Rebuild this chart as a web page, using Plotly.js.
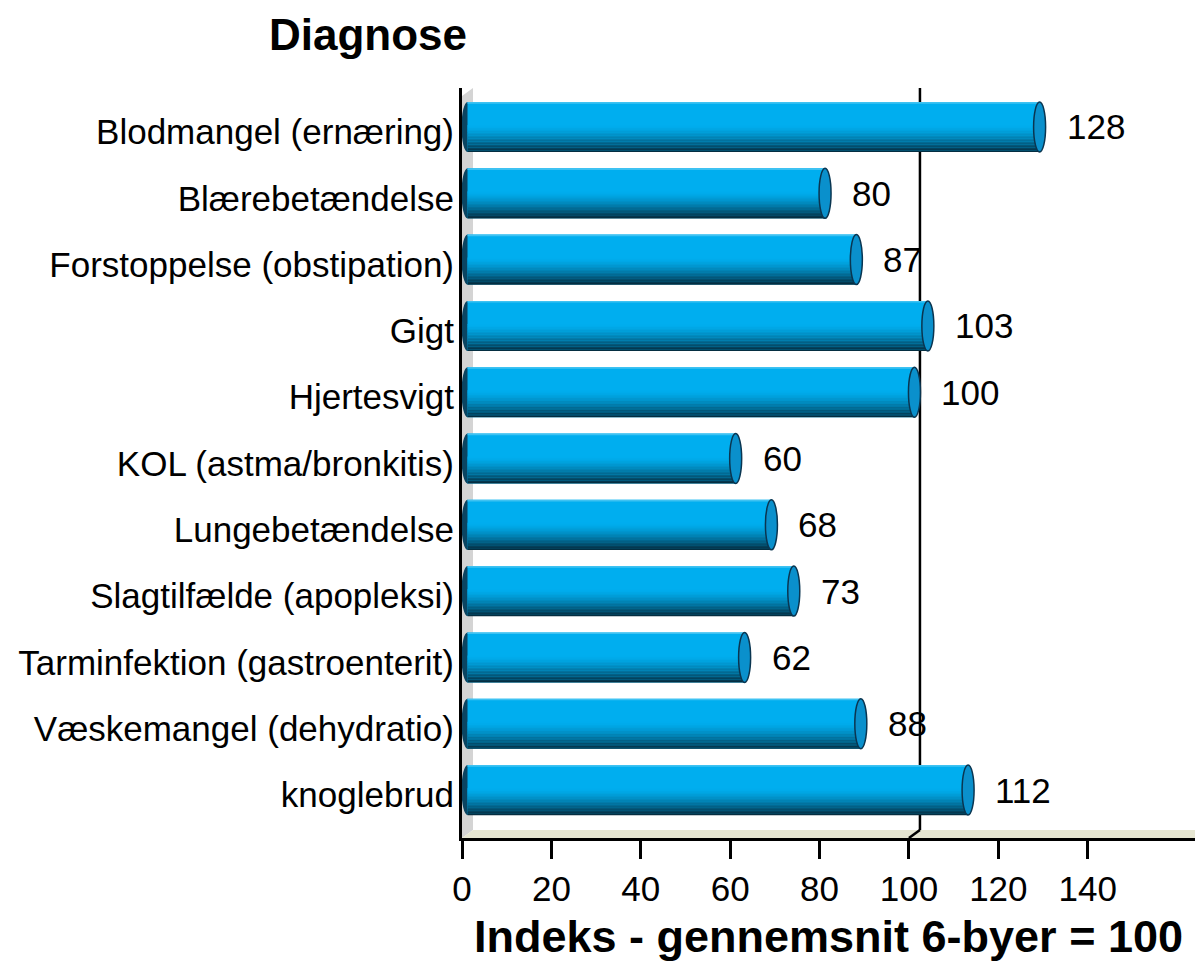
<!DOCTYPE html>
<html><head><meta charset="utf-8">
<script src="https://cdn.plot.ly/plotly-3.0.1.min.js"></script>
<style>html,body{margin:0;padding:0;background:#fff;overflow:hidden}</style>
</head><body>
<div id="chart" style="width:1195px;height:962px"></div>
<script>
// ---- data ----
const categories = [
  'Blodmangel (ernæring)',
  'Blærebetændelse',
  'Forstoppelse (obstipation)',
  'Gigt',
  'Hjertesvigt',
  'KOL (astma/bronkitis)',
  'Lungebetændelse',
  'Slagtilfælde (apopleksi)',
  'Tarminfektion (gastroenterit)',
  'Væskemangel (dehydratio)',
  'knoglebrud'
];
const values = [128, 80, 87, 103, 100, 60, 68, 73, 62, 88, 112];
const xTickValues = [0, 20, 40, 60, 80, 100, 120, 140];
const xTickLabels = ['0', '20', '40', '60', '80', '100', '120', '140'];
const referenceValue = 100;
const chartTitle = 'Diagnose';
const xAxisTitle = 'Indeks - gennemsnit 6-byer = 100';

// ---- layout / style constants ----
const W = 1195, H = 962, ML = 462, MR = 0, MT = 88, MB = 124;
const plotW = W - ML - MR, plotH = H - MT - MB;
const DX = 11, DY = 8;            // 3D depth in pixels
const xMax = 164;
const pxPerUnit = plotW / xMax;
const barShift = (DX / 2) / pxPerUnit;
const BW = 0.754;
const yRange = [10.724, -0.588];
const FONT = 'Liberation Sans, Arial, sans-serif';

function hex(c){return [parseInt(c.slice(1,3),16),parseInt(c.slice(3,5),16),parseInt(c.slice(5,7),16)];}
function mix(a,b,t){const A=hex(a),B=hex(b);return 'rgb('+A.map((v,i)=>Math.round(v+(B[i]-v)*t)).join(',')+')';}

const traces = [];
function barTrace(offset, width, color){
  return {
    type: 'bar', orientation: 'h', x: values, y: categories,
    xaxis: 'x2', yaxis: 'y', offset: offset, width: width,
    marker: {color: color, line: {width: 0}},
    hoverinfo: 'skip', showlegend: false
  };
}
// body of the cylinder
traces.push(barTrace(-BW/2, BW, '#00AEEF'));
// top highlight
traces.push(barTrace(-BW/2, 0.025, '#3EC2F2'));
// lower shading slices
const N = 18, start = -0.03, end = BW/2;
for (let k = 0; k < N; k++) {
  const o = start + (end - start) * k / N;
  const w = (end - start) / N + 0.002;
  const t = Math.pow((k + 0.5) / N, 1.5);
  traces.push(barTrace(o, w, mix('#00AEEF', '#04283A', t)));
}

const shapes = [];
const dxp = DX / plotW, dyp = DY / plotH;
// left wall
shapes.push({type: 'path', xref: 'paper', yref: 'paper', layer: 'below',
  path: `M 0 0 L 0 ${1 - dyp} L ${dxp} 1 L ${dxp} ${dyp} Z`,
  fillcolor: '#D4D4D4', line: {width: 0}});
// floor
shapes.push({type: 'path', xref: 'paper', yref: 'paper', layer: 'below',
  path: `M 0 0 L ${dxp} ${dyp} L 1 ${dyp} L 1 0 Z`,
  fillcolor: '#E6E6D2', line: {width: 0}});
// reference line on the back wall
shapes.push({type: 'line', xref: 'x', xsizemode: 'pixel', xanchor: referenceValue,
  x0: DX, x1: DX, yref: 'paper', y0: dyp, y1: 1, layer: 'below',
  line: {color: '#000', width: 2.5}});
shapes.push({type: 'line', xref: 'x', xsizemode: 'pixel', xanchor: referenceValue,
  x0: 0, x1: DX, yref: 'paper', y0: 0, y1: dyp, layer: 'below',
  line: {color: '#000', width: 2.5}});
// cylinder caps
values.forEach((v, i) => {
  shapes.push({type: 'circle', xref: 'x2', xsizemode: 'pixel', xanchor: 0,
    x0: -6, x1: 6, yref: 'y', y0: i - BW/2, y1: i + BW/2, layer: 'below',
    fillcolor: '#0B4562', line: {width: 0}});
  shapes.push({type: 'circle', xref: 'x2', xsizemode: 'pixel', xanchor: v,
    x0: -6, x1: 6, yref: 'y', y0: i - BW/2, y1: i + BW/2, layer: 'above',
    fillcolor: '#0A90CC', line: {color: '#0A3550', width: 1.5}});
});

const annotations = values.map((v, i) => ({
  xref: 'x2', yref: 'y', x: v, y: i, xshift: 25, xanchor: 'left', yanchor: 'middle',
  text: String(v), showarrow: false, font: {family: FONT, size: 35, color: '#000'}
}));

const layout = {
  width: W, height: H,
  margin: {l: ML, r: MR, t: MT, b: MB, pad: 0},
  paper_bgcolor: '#fff', plot_bgcolor: 'rgba(0,0,0,0)',
  barmode: 'overlay',
  showlegend: false,
  title: {text: '<b>' + chartTitle + '</b>', font: {family: FONT, size: 44, color: '#000'},
    xref: 'container', yref: 'container', x: 368 / W, xanchor: 'center', y: 1 - 35 / H, yanchor: 'middle'},
  xaxis: {range: [0, xMax], tickvals: xTickValues, ticktext: xTickLabels,
    showgrid: false, zeroline: false, showline: true, linecolor: '#000', linewidth: 3,
    ticks: 'outside', ticklen: 18, tickwidth: 3, tickcolor: '#000',
    tickfont: {family: FONT, size: 35, color: '#000'}, automargin: false,
    title: {text: '<b>' + xAxisTitle + '</b>', font: {family: FONT, size: 45, color: '#000'}, standoff: 17}},
  xaxis2: {range: [-barShift, xMax - barShift], overlaying: 'x', visible: false, fixedrange: true},
  yaxis: {type: 'category', categoryarray: categories, range: yRange,
    showgrid: false, zeroline: false, showline: true, linecolor: '#000', linewidth: 3,
    ticks: '', ticklabelstandoff: -2, ticklabelshift: -5, automargin: false,
    tickfont: {family: FONT, size: 35, color: '#000'}},
  shapes: shapes,
  annotations: annotations
};

Plotly.newPlot('chart', traces, layout, {displayModeBar: false, staticPlot: true});
</script>
</body></html>
